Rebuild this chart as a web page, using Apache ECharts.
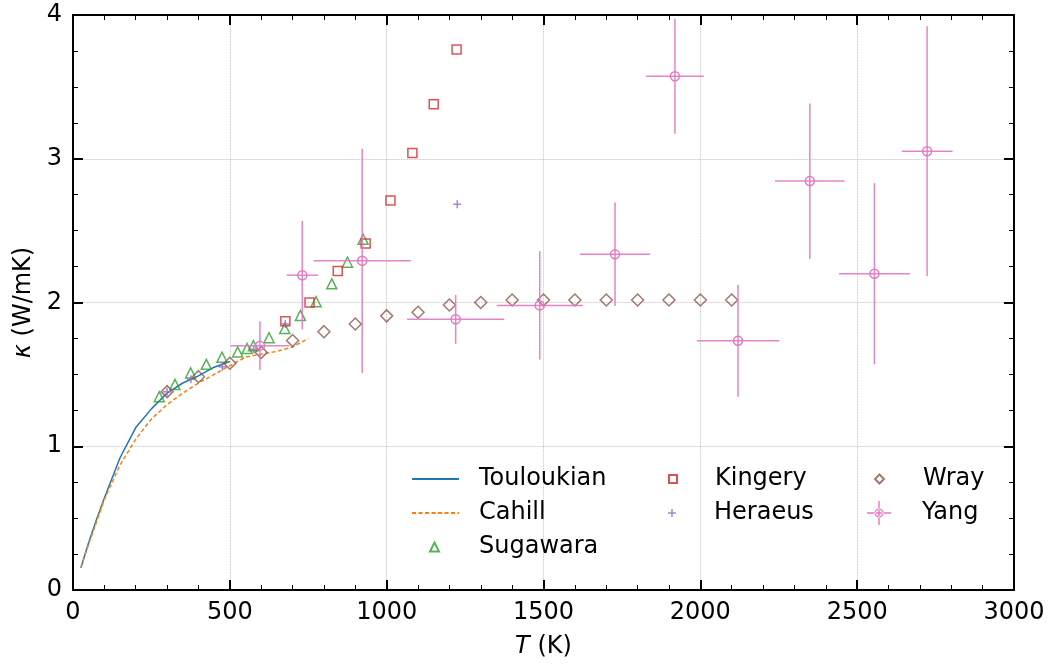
<!DOCTYPE html>
<html>
<head>
<meta charset="utf-8">
<script src="https://cdn.jsdelivr.net/npm/echarts@6/dist/echarts.min.js"></script>
<style>
html,body{margin:0;padding:0;background:#fff;}
#chart{width:1056px;height:664px;}
</style>
</head>
<body>
<div id="chart"></div>
<script>
// ---- data (T in K, kappa in W/mK) ----
const touloukianT = [25, 50, 75, 100, 150, 200, 250, 300, 350, 400, 450, 500];
const touloukianK = [0.155, 0.33, 0.49, 0.64, 0.92, 1.13, 1.26, 1.37, 1.44, 1.49, 1.55, 1.59];

const cahillT = [25, 50, 100, 150, 200, 250, 300, 350, 400, 450, 500, 550, 600, 650, 700, 750];
const cahillK = [0.155, 0.32, 0.63, 0.87, 1.05, 1.19, 1.29, 1.37, 1.44, 1.50, 1.56, 1.62, 1.64, 1.66, 1.69, 1.75];

const sugawaraT = [275, 325, 375, 425, 475, 525, 555, 575, 625, 675, 725, 775, 825, 875, 925];
const sugawaraK = [1.345, 1.43, 1.51, 1.57, 1.62, 1.656, 1.68, 1.70, 1.755, 1.82, 1.91, 2.005, 2.13, 2.28, 2.44];

const kingeryT = [677, 754, 844, 933, 1012, 1082, 1150, 1223];
const kingeryK = [1.87, 2.00, 2.22, 2.41, 2.71, 3.04, 3.38, 3.76];

const heraeusT = [300, 376, 476, 576, 677, 1225];
const heraeusK = [1.38, 1.466, 1.553, 1.675, 1.85, 2.683];

const wrayT = [300, 400, 500, 600, 700, 800, 900, 1000, 1100, 1200, 1300, 1400, 1500, 1600, 1700, 1800, 1900, 2000, 2100];
const wrayK = [1.38, 1.484, 1.577, 1.653, 1.735, 1.797, 1.85, 1.907, 1.932, 1.983, 2.0, 2.017, 2.017, 2.017, 2.017, 2.017, 2.017, 2.017, 2.017];

const yangT    = [596, 731, 922, 1220, 1488, 1728, 1919, 2120, 2349, 2555, 2723];
const yangK    = [1.70, 2.19, 2.29, 1.883, 1.98, 2.335, 3.574, 1.734, 2.845, 2.20, 3.052];
const yangTerr = [93, 50, 155, 155, 137, 112, 92, 131, 111, 113, 81];
const yangKerr = [0.17, 0.377, 0.78, 0.17, 0.377, 0.36, 0.40, 0.39, 0.54, 0.63, 0.87];

const xTicks = [0, 500, 1000, 1500, 2000, 2500, 3000];
const yTicks = [0, 1, 2, 3, 4];

// ---- build ----
const zip = (a, b) => a.map((v, i) => [v, b[i]]);
const FONT = 'DejaVu Sans';
const FS = 24;
const C = {blue:'#1f77b4', orange:'#ff7f0e', green:'#2ca02c', red:'#d62728', purple:'#9467bd', brown:'#8c564b', pink:'#e377c2'};
const plusPath = 'path://M3.25,0h1.5v8h-1.5z M0,3.25h8v1.5h-8z';
const yangIcon = 'path://M0,11.3h24v1.4h-24z M11.3,0h1.4v24h-1.4z M16.5,12A4.5,4.5 0 1 0 7.5,12A4.5,4.5 0 1 0 16.5,12Z M15.2,12A3.2,3.2 0 1 1 8.8,12A3.2,3.2 0 1 1 15.2,12Z';

const chart = echarts.init(document.getElementById('chart'), null, {renderer:'canvas'});

const axisCommon = {
  type:'value',
  axisLine:{show:true, onZero:false, lineStyle:{color:'#000', width:2}},
  axisTick:{show:true, inside:true, length:10, lineStyle:{color:'#000', width:2}},
  minorTick:{show:true, length:5, lineStyle:{color:'#000', width:1}},
};
const labelStyle = {show:true, margin:11, color:'#000', fontSize:FS, fontFamily:FONT, formatter:(v) => String(v)};
const gridLine = {show:true, lineStyle:{color:'#b0b0b0', width:0.8, type:'dotted'}};
const nameStyle = {color:'#000', fontSize:FS, fontFamily:FONT, rich:{i:{fontStyle:'italic', fontSize:FS, fontFamily:FONT, color:'#000'}}};

// one legend per entry, placed as in the reference (row centres 477/511/545)
function legendItem(name, left, centerY, iconW, iconH, padLeft, extra) {
  const h = Math.max(iconH, FS);
  return Object.assign({
    orient:'vertical', left:left, top:centerY - h / 2, padding:0,
    itemWidth:iconW, itemHeight:iconH,
    textStyle:{fontSize:FS, color:'#000', fontFamily:FONT, padding:[0,0,0,padLeft]},
    data:[name]
  }, extra || {});
}

const option = {
  backgroundColor:'#fff',
  animation:false,
  textStyle:{fontFamily:FONT},
  grid:{left:73, right:42, top:15, bottom:74, containLabel:false, outerBoundsMode:'none'},
  xAxis:[
    Object.assign({}, axisCommon, {
      position:'bottom', min:xTicks[0], max:xTicks[xTicks.length-1], interval:500,
      minorTick:Object.assign({}, axisCommon.minorTick, {splitNumber:5}),
      axisLabel:labelStyle, splitLine:gridLine,
      name:'{i|T} (K)', nameLocation:'middle', nameGap:45, nameTextStyle:nameStyle
    }),
    Object.assign({}, axisCommon, {
      position:'top', min:xTicks[0], max:xTicks[xTicks.length-1], interval:500,
      minorTick:Object.assign({}, axisCommon.minorTick, {splitNumber:5}),
      axisLabel:{show:false}, splitLine:{show:false}
    })
  ],
  yAxis:[
    Object.assign({}, axisCommon, {
      position:'left', min:yTicks[0], max:yTicks[yTicks.length-1], interval:1,
      minorTick:Object.assign({}, axisCommon.minorTick, {splitNumber:4}),
      axisLabel:labelStyle, splitLine:gridLine,
      name:'{i|κ} (W/mK)', nameLocation:'middle', nameGap:33, nameRotate:90, nameTextStyle:nameStyle
    }),
    Object.assign({}, axisCommon, {
      position:'right', min:yTicks[0], max:yTicks[yTicks.length-1], interval:1,
      minorTick:Object.assign({}, axisCommon.minorTick, {splitNumber:4}),
      axisLabel:{show:false}, splitLine:{show:false}
    })
  ],
  legend:[
    legendItem('Touloukian', 411, 479, 47, 10, 15, {data:[{name:'Touloukian', itemStyle:{opacity:0}}]}),
    legendItem('Cahill', 411, 513, 47, 10, 15, {data:[{name:'Cahill', itemStyle:{opacity:0}}]}),
    legendItem('Sugawara', 429, 547, 9, 9, 35),
    legendItem('Kingery', 668, 479, 8, 8, 33),
    legendItem('Heraeus', 668, 513, 8, 8, 33),
    legendItem('Wray', 874, 479, 9, 9, 34),
    legendItem('Yang', 867, 513, 24, 24, 26, {data:[{name:'Yang', icon:yangIcon, itemStyle:{color:C.pink, borderWidth:0}}]})
  ],
  series:[
    {
      name:'Touloukian', type:'line', data:zip(touloukianT, touloukianK), showSymbol:false, symbol:'none',
      lineStyle:{color:C.blue, width:1.5}, itemStyle:{color:C.blue}, z:3
    },
    {
      name:'Cahill', type:'line', data:zip(cahillT, cahillK), showSymbol:false, symbol:'none',
      lineStyle:{color:C.orange, width:1.5, type:[4,2.5]}, itemStyle:{color:C.orange}, z:3
    },
    {
      name:'Sugawara', type:'scatter', data:zip(sugawaraT, sugawaraK), symbol:'triangle', symbolSize:10,
      itemStyle:{color:'rgba(255,255,255,0)', borderColor:C.green, borderWidth:1.5}, z:4
    },
    {
      name:'Kingery', type:'scatter', data:zip(kingeryT, kingeryK), symbol:'rect', symbolSize:9,
      itemStyle:{color:'rgba(255,255,255,0)', borderColor:C.red, borderWidth:1.5}, z:4
    },
    {
      name:'Heraeus', type:'scatter', data:zip(heraeusT, heraeusK), symbol:plusPath, symbolSize:8,
      itemStyle:{color:C.purple}, z:4
    },
    {
      name:'Wray', type:'scatter', data:zip(wrayT, wrayK), symbol:'diamond', symbolSize:[12,12],
      itemStyle:{color:'rgba(255,255,255,0)', borderColor:C.brown, borderWidth:1.5}, z:4
    },
    {
      name:'Yang', type:'custom', z:5,
      data:yangT.map((t, i) => [t, yangK[i], yangTerr[i], yangKerr[i]]),
      encode:{x:0, y:1},
      itemStyle:{color:C.pink},
      renderItem:function(params, api){
        const x = api.value(0), y = api.value(1), dx = api.value(2), dy = api.value(3);
        const c = api.coord([x, y]);
        const l = api.coord([x - dx, y]), r = api.coord([x + dx, y]);
        const t = api.coord([x, y + dy]), b = api.coord([x, y - dy]);
        const st = {stroke:C.pink, lineWidth:1.5, fill:null, opacity:0.9};
        return {type:'group', children:[
          {type:'line', shape:{x1:l[0], y1:c[1], x2:r[0], y2:c[1]}, style:st},
          {type:'line', shape:{x1:c[0], y1:t[1], x2:c[0], y2:b[1]}, style:st},
          {type:'circle', shape:{cx:c[0], cy:c[1], r:4.5}, style:{stroke:C.pink, lineWidth:1.5, fill:'rgba(255,255,255,0)'}}
        ]};
      }
    }
  ]
};
chart.setOption(option);
</script>
</body>
</html>
